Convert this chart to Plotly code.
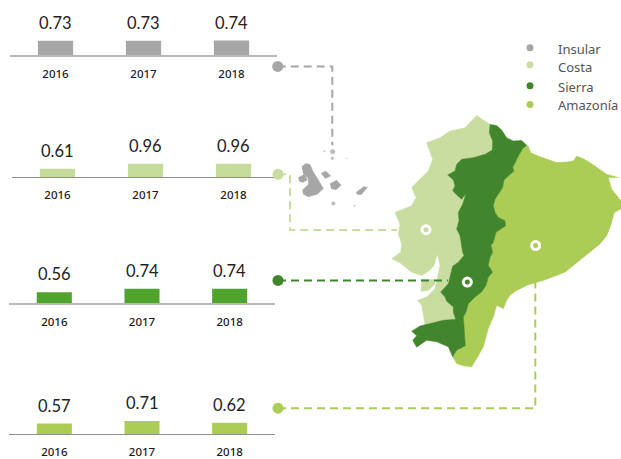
import plotly.graph_objects as go

# ---- data ----
years = ["2016", "2017", "2018"]
regions = ["Insular", "Costa", "Sierra", "Amazonía"]
insular = [0.73, 0.73, 0.74]
costa = [0.61, 0.96, 0.96]
sierra = [0.56, 0.74, 0.74]
amazonia = [0.57, 0.71, 0.62]
series = [insular, costa, sierra, amazonia]

# ---- map outlines (crop units: 3 per pixel, origin 280,110) ----
costa_sierra_border = [(630,45),(628,70),(638,95),(637,122),(615,135),(580,145),(545,150),(530,165),(525,185),(503,197),
    (520,212),(525,230),(518,245),(535,262),(545,270),(558,253),(548,285),(535,310),(537,335),(530,360),(540,380),
    (545,405),(548,430),(552,440),(535,460),(518,472),(512,500),(505,525),(482,550),(495,565),(500,578),(520,595),
    (520,610),(527,632)]
sierra_amazonia_border = [(740,108),(728,118),(718,135),(705,160),(698,175),(702,185),(685,200),(672,212),(668,235),
    (655,255),(645,270),(640,290),(645,310),(655,325),(675,335),(677,350),(660,362),(648,370),(640,400),(633,410),
    (638,430),(630,445),(625,470),(638,490),(625,505),(618,530),(605,550),(585,565),(565,585),(558,610),(550,625)]
sierra_south_border = [(552,665),(556,712),(530,725),(518,745)]
costa_north_west = [(527,632),(490,635),(435,648),(425,590),(412,575),(440,565),(465,540),(480,470),(472,435),(462,470),
    (445,488),(425,500),(395,490),(360,462),(335,450),(362,430),(365,405),(355,375),(360,345),(345,310),(375,298),
    (395,290),(408,265),(395,235),(420,210),(445,185),(458,150),(448,125),(440,100),(480,85),(510,65),(555,55),
    (575,35),(590,18)]
puna_island = [(425,512),(462,512),(465,525),(445,545),(422,548)]
sierra_north_coast = [(630,45),(650,48),(665,62),(680,85),(700,95),(725,93)]
sierra_south_west = [(505,715),(470,700),(440,695),(410,716),(398,695),(410,682),(395,668),(420,652),(450,645),(490,635)]
amazonia_east = [(745,110),(752,130),(780,142),(800,150),(830,160),(860,158),(880,155),(890,140),(910,148),(930,160),
    (960,180),(980,195),(1015,205),(985,205),(995,240),(1010,260),(1023,275),(1023,300),(1003,310),(992,350),(980,380),
    (960,405),(930,430),(900,455),(855,490),(790,515),(745,528),(710,545),(690,560),(680,575),(670,600),(650,590),
    (640,625),(625,660),(620,680),(610,715),(590,750),(575,775),(550,772),(530,765),(520,748)]

costa_outline = costa_north_west + costa_sierra_border
sierra_outline = (sierra_north_coast + sierra_amazonia_border + sierra_south_border + sierra_south_west
                  + costa_sierra_border[::-1])
amazonia_outline = amazonia_east + sierra_south_border[::-1] + sierra_amazonia_border[::-1]

galapagos_islands = [
    [(65,172),(78,163),(90,166),(100,188),(115,212),(130,238),(112,255),(85,263),(70,255),(68,242),(85,226),(85,208),(70,195)],
    [(55,205),(72,196),(82,212),(68,220),(57,215)],
    [(150,224),(170,213),(183,228),(168,242),(153,238)],
    [(123,192),(138,186),(152,200),(135,208)],
    [(228,250),(252,232),(262,235),(244,256),(232,256)],
]
galapagos_dots = [(158,127,6),(157,147,4),(160,283,5),(224,290,2.5),(133,126,2.5),(200,147,2)]

# ---- styling ----
W, H = 621, 459
bar_colors = ["#a6a6a6", "#c5dc9a", "#4fa42f", "#accd55"]
map_colors = ["#a6a6a6", "#c8dd9f", "#41862c", "#accd55"]
line_colors = ["#b8b8b8", "#8f8f8f", "#b8b8b8", "#8f8f8f"]
line_widths = [2, 1, 2, 1]
baselines = [55.5, 178, 304.7, 436.3]
px_per_unit = [19.9, 14, 19.9, 19]
x_spans = [(10, 277), (12, 279), (9, 275), (9, 275)]
Y_MAX = 1.5


def crop(points):
    return [p[0] / 3 + 280 for p in points], [p[1] / 3 + 110 for p in points]


fig = go.Figure()
layout = {}
annotations = []
for i, values in enumerate(series):
    k = "" if i == 0 else str(i + 1)
    xa, ya = "x" + k, "y" + k
    fig.add_trace(go.Bar(x=years, y=values, xaxis=xa, yaxis=ya, name=regions[i], width=0.4,
                         marker=dict(color=bar_colors[i], line=dict(width=0)), showlegend=False))
    x0, x1 = x_spans[i]
    base = baselines[i]
    top = base - px_per_unit[i] * Y_MAX
    layout["xaxis" + k] = dict(domain=[x0 / W, x1 / W], anchor=ya, type="category", range=[-0.517, 2.517],
                               showgrid=False, zeroline=False, showline=True, linecolor=line_colors[i],
                               linewidth=line_widths[i], ticks="", ticklabelstandoff=7, fixedrange=True,
                               tickfont=dict(family="Noto Sans", size=11.5, color="#1a1a1a", weight=500))
    layout["yaxis" + k] = dict(domain=[1 - base / H, 1 - top / H], anchor=xa, range=[0, Y_MAX],
                               visible=False, fixedrange=True)
    for j, v in enumerate(values):
        annotations.append(dict(x=j, y=v, xref=xa, yref=ya, text=f"{v:.2f}", showarrow=False, yanchor="middle",
                                yshift=18, font=dict(family="Lato", size=16.5, color="#222222")))

OV = dict(xaxis="x5", yaxis="y5", showlegend=False, hoverinfo="skip")

# map
for outline, color in [(costa_outline, map_colors[1]), (puna_island, map_colors[1]),
                       (amazonia_outline, map_colors[3]), (sierra_outline, map_colors[2])]:
    xs, ys = crop(outline)
    fig.add_trace(go.Scatter(x=xs, y=ys, mode="lines", fill="toself", fillcolor=color,
                             line=dict(width=0.5, color=color), **OV))
for outline in galapagos_islands:
    xs, ys = crop(outline)
    fig.add_trace(go.Scatter(x=xs, y=ys, mode="lines", fill="toself", fillcolor=map_colors[0],
                             line=dict(width=0.5, color=map_colors[0]), **OV))
gx, gy = crop(galapagos_dots)
fig.add_trace(go.Scatter(x=gx, y=gy, mode="markers",
                         marker=dict(size=[p[2] for p in galapagos_dots], color="#a0a0a0"), **OV))

# leader lines
leaders = [
    [(277.7, 66.7), (332.3, 66.7), (332.3, 146)],
    [(278, 175), (290, 175), (290, 231), (397, 231)],
    [(278, 281.7), (448, 281.7)],
    [(278, 410), (535.3, 410), (535.3, 283)],
]
for path, color in zip(leaders, map_colors):
    fig.add_trace(go.Scatter(x=[p[0] for p in path], y=[p[1] for p in path], mode="lines",
                             line=dict(color=color, width=2, dash="8px,5px"), **OV))
    fig.add_trace(go.Scatter(x=[path[0][0]], y=[path[0][1]], mode="markers",
                             marker=dict(color=color, size=11), **OV))

# rings on the map
rx, ry = crop([(438, 362), (767, 410), (562, 520)])
fig.add_trace(go.Scatter(x=rx, y=ry, mode="markers",
                         marker=dict(symbol="circle-open", size=8, color="#ffffff", line=dict(width=3, color="#ffffff")),
                         **OV))

# key
fig.add_trace(go.Scatter(x=[530] * 4, y=[48, 65, 86, 105], mode="markers",
                         marker=dict(color=map_colors, size=7), **OV))
fig.add_trace(go.Scatter(x=[558] * 4, y=[50.5, 69, 89, 107], mode="text", text=regions, textposition="middle right",
                         textfont=dict(family="Noto Sans", size=13, color="#555555"), **OV))

layout["xaxis5"] = dict(domain=[0, 1], range=[0, W], visible=False, anchor="y5", fixedrange=True)
layout["yaxis5"] = dict(domain=[0, 1], range=[H, 0], visible=False, anchor="x5", fixedrange=True)

fig.update_layout(width=W, height=H, margin=dict(l=0, r=0, t=0, b=0), paper_bgcolor="white",
                  plot_bgcolor="rgba(0,0,0,0)", showlegend=False, annotations=annotations, **layout)
fig.write_html("out.html", config=dict(displayModeBar=False),
               post_script="document.body.style.margin='0';document.documentElement.style.overflow='hidden';")
